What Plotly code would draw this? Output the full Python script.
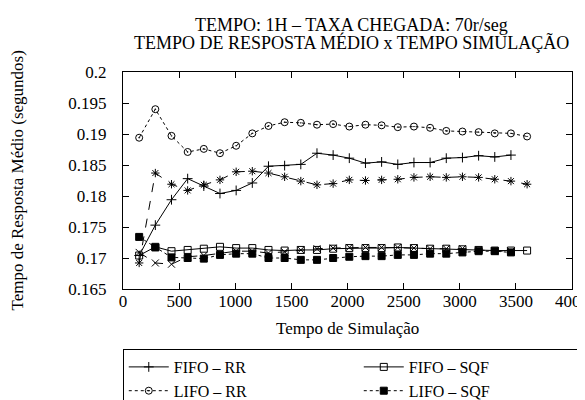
import plotly.graph_objects as go

x_full = [144, 288, 432, 576, 720, 864, 1008, 1152, 1296, 1440, 1584, 1728, 1872,
          2016, 2160, 2304, 2448, 2592, 2736, 2880, 3024, 3168, 3312, 3456, 3600]
x_short = [144, 288, 432, 576, 720, 864, 1008, 1152, 1296, 1440, 1584, 1728, 1872,
           2016, 2160, 2304, 2448, 2592, 2736, 2880, 3024, 3168, 3312, 3456]

fifo_rr = [0.1704, 0.1753, 0.1794, 0.1828, 0.1816, 0.1804, 0.1809, 0.1821, 0.1848, 0.1849,
           0.1851, 0.1869, 0.1866, 0.1861, 0.1853, 0.1855, 0.1851, 0.1854, 0.1854, 0.1861,
           0.1862, 0.1865, 0.1863, 0.1866]
lifo_rr = [0.1894, 0.1940, 0.1897, 0.1871, 0.1876, 0.1869, 0.1881, 0.1901, 0.1913, 0.1919,
           0.1918, 0.1915, 0.1916, 0.1912, 0.1915, 0.1914, 0.1911, 0.1912, 0.1910, 0.1905,
           0.1904, 0.1903, 0.1901, 0.1901, 0.1896]
lifo_pri_rr = [0.1692, 0.1837, 0.1819, 0.1809, 0.1818, 0.1826, 0.1839, 0.1840, 0.1837, 0.1831,
               0.1824, 0.1818, 0.1820, 0.1826, 0.1825, 0.1826, 0.1827, 0.1830, 0.1831, 0.1830,
               0.1831, 0.1830, 0.1827, 0.1824, 0.1819]
fifo_sqf = [0.1704, 0.1718, 0.1711, 0.1713, 0.1715, 0.1718, 0.1716, 0.1716, 0.1713, 0.1712,
            0.1713, 0.1713, 0.1715, 0.1716, 0.1716, 0.1716, 0.1717, 0.1716, 0.1715, 0.1715,
            0.1714, 0.1713, 0.1712, 0.1712, 0.1712]
lifo_sqf = [0.1734, 0.1717, 0.1701, 0.1700, 0.1699, 0.1705, 0.1707, 0.1707, 0.1700, 0.1700,
            0.1697, 0.1697, 0.1700, 0.1702, 0.1703, 0.1703, 0.1705, 0.1705, 0.1707, 0.1707,
            0.1709, 0.1711, 0.1711, 0.1709]
lifo_pri_sqf = [0.1709, 0.1692, 0.1690, 0.1702, 0.1704, 0.1708, 0.1711, 0.1711, 0.1708, 0.1710,
                0.1713, 0.1715, 0.1716, 0.1717, 0.1717, 0.1717, 0.1717, 0.1716, 0.1715, 0.1715,
                0.1715, 0.1713, 0.1711, 0.1711]

series_names = ["FIFO – RR", "FIFO – SQF", "LIFO – RR", "LIFO – SQF",
                "LIFO–PRI – RR", "LIFO–PRI – SQF"]

x_ticks = [0, 500, 1000, 1500, 2000, 2500, 3000, 3500, 4000]
y_ticks = [0.165, 0.17, 0.175, 0.18, 0.185, 0.19, 0.195, 0.2]
y_tick_text = ["0.165", "0.17", "0.175", "0.18", "0.185", "0.19", "0.195", "0.2"]

title_line1 = "TEMPO: 1H – TAXA CHEGADA: 70r/seg"
title_line2 = "TEMPO DE RESPOSTA MÉDIO x TEMPO SIMULAÇÃO"
x_title = "Tempo de Simulação"
y_title = "Tempo de Resposta Médio (segundos)"

FONT = "Liberation Serif"
BLK = "black"

styles = [
    (x_short, fifo_rr, "solid", "cross-thin", 7, 1),
    (x_full, fifo_sqf, "solid", "square-open", 7, 1),
    (x_full, lifo_rr, "dot", "circle-open-dot", 7, 1),
    (x_short, lifo_sqf, "dot", "square", 7, 1),
    (x_full, lifo_pri_rr, "dash", "asterisk-open", 7, 1),
    (x_short, lifo_pri_sqf, "dash", "x-thin", 7, 1),
]

fig = go.Figure()
for name, (xs, ys, dash, sym, size, lw) in zip(series_names, styles):
    fig.add_trace(go.Scatter(
        x=xs, y=ys, name=name, mode="lines+markers",
        line=dict(color=BLK, width=1, dash=dash),
        marker=dict(symbol=sym, size=size, color=BLK, line=dict(color=BLK, width=lw)),
    ))

axis_common = dict(
    showline=True, linecolor=BLK, linewidth=1, mirror="allticks",
    ticks="inside", ticklen=6, tickcolor=BLK, showgrid=False, zeroline=False,
    tickfont=dict(family=FONT, size=17, color=BLK),
)
fig.update_xaxes(range=[0, 4000], tickvals=x_ticks, ticklabelstandoff=-3, **axis_common)
fig.update_yaxes(range=[0.165, 0.2], tickvals=y_ticks, ticktext=y_tick_text,
                 ticklabelstandoff=12, **axis_common)

ann_font = dict(family=FONT, size=18, color=BLK)
fig.update_layout(
    width=585, height=400,
    margin=dict(l=115, r=21, t=64, b=119, autoexpand=False),
    paper_bgcolor="white", plot_bgcolor="white",
    font=dict(family=FONT, color=BLK),
    showlegend=True,
    legend=dict(
        orientation="h", x=-0.0005, xanchor="left", y=-0.2765, yanchor="top",
        bordercolor=BLK, borderwidth=1, bgcolor="white",
        entrywidth=180, itemwidth=40,
        font=dict(family=FONT, size=16, color=BLK),
    ),
    annotations=[
        dict(text=title_line1, x=0.508, y=1.2166, xref="paper", yref="paper",
             xanchor="center", yanchor="middle", showarrow=False, font=ann_font),
        dict(text=title_line2, x=0.508, y=1.138, xref="paper", yref="paper",
             xanchor="center", yanchor="middle", showarrow=False, font=ann_font),
        dict(text=x_title, x=0.5, y=-0.18, xref="paper", yref="paper",
             xanchor="center", yanchor="middle", showarrow=False,
             font=dict(family=FONT, size=17, color=BLK)),
        dict(text=y_title, x=-0.236, y=0.5, xref="paper", yref="paper",
             xanchor="center", yanchor="middle", showarrow=False, textangle=-90,
             font=dict(family=FONT, size=17, color=BLK)),
    ],
)

fig.write_html("out.html")
